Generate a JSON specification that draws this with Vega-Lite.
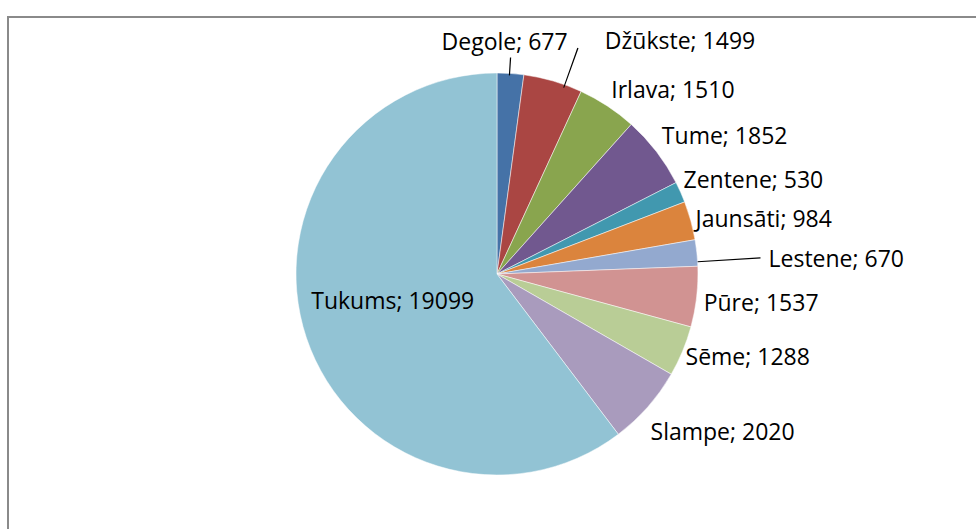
{
  "$schema": "https://vega.github.io/schema/vega-lite/v6.json",
  "width": 976,
  "height": 529,
  "autosize": {"type": "fit", "contains": "padding"},
  "padding": {"left": 7, "top": 12, "right": -11, "bottom": -3},
  "background": "white",
  "config": {
    "view": {"stroke": "#8a8a8a", "strokeWidth": 2},
    "text": {"font": "Open Sans", "fontSize": 23, "color": "black"}
  },
  "data": {
    "values": [
      {"i": 1, "name": "Degole", "v": 677, "label": "Degole; 677"},
      {"i": 2, "name": "Džūkste", "v": 1499, "label": "Džūkste; 1499"},
      {"i": 3, "name": "Irlava", "v": 1510, "label": "Irlava; 1510"},
      {"i": 4, "name": "Tume", "v": 1852, "label": "Tume; 1852"},
      {"i": 5, "name": "Zentene", "v": 530, "label": "Zentene; 530"},
      {"i": 6, "name": "Jaunsāti", "v": 984, "label": "Jaunsāti; 984"},
      {"i": 7, "name": "Lestene", "v": 670, "label": "Lestene; 670"},
      {"i": 8, "name": "Pūre", "v": 1537, "label": "Pūre; 1537"},
      {"i": 9, "name": "Sēme", "v": 1288, "label": "Sēme; 1288"},
      {"i": 10, "name": "Slampe", "v": 2020, "label": "Slampe; 2020"},
      {"i": 11, "name": "Tukums", "v": 19099, "label": "Tukums; 19099"}
    ]
  },
  "layer": [
    {
      "data": {"values": [{}]},
      "mark": {"type": "rect", "fill": "transparent", "stroke": "#8a8a8a", "strokeWidth": 2},
      "encoding": {}
    },
    {
      "encoding": {
        "theta": {"field": "v", "type": "quantitative", "stack": true},
        "order": {"field": "i", "type": "quantitative"},
        "detail": {"field": "name", "type": "nominal"}
      },
      "layer": [
        {
          "mark": {"type": "arc", "outerRadius": 201, "stroke": "white", "strokeWidth": 0.5},
          "encoding": {
            "color": {
              "field": "name",
              "type": "nominal",
              "legend": null,
              "scale": {
                "domain": ["Degole", "Džūkste", "Irlava", "Tume", "Zentene", "Jaunsāti", "Lestene", "Pūre", "Sēme", "Slampe", "Tukums"],
                "range": ["#4572A7", "#AA4643", "#89A54E", "#71588F", "#4198AF", "#DB843D", "#93A9CF", "#D19392", "#B9CD96", "#A99BBD", "#92C3D4"]
              }
            }
          }
        },
        {"mark": {"type": "text", "radius": 225, "align": "center", "baseline": "alphabetic", "dx": -7.5, "dy": 0},
         "encoding": {"text": {"condition": {"test": "datum.name === 'Degole'", "field": "label"}, "value": ""}}},
        {"mark": {"type": "text", "radius": 234, "align": "left", "baseline": "alphabetic", "dx": 42.5, "dy": 0},
         "encoding": {"text": {"condition": {"test": "datum.name === 'Džūkste'", "field": "label"}, "value": ""}}},
        {"mark": {"type": "text", "radius": 208, "align": "left", "baseline": "alphabetic", "dx": 0, "dy": -2},
         "encoding": {"text": {"condition": {"test": "datum.name === 'Irlava'", "field": "label"}, "value": ""}}},
        {"mark": {"type": "text", "radius": 208, "align": "left", "baseline": "alphabetic", "dx": 0, "dy": -3},
         "encoding": {"text": {"condition": {"test": "datum.name === 'Tume'", "field": "label"}, "value": ""}}},
        {"mark": {"type": "text", "radius": 208, "align": "left", "baseline": "alphabetic", "dx": -3.5, "dy": -1},
         "encoding": {"text": {"condition": {"test": "datum.name === 'Zentene'", "field": "label"}, "value": ""}}},
        {"mark": {"type": "text", "radius": 208, "align": "left", "baseline": "alphabetic", "dx": -2, "dy": 8},
         "encoding": {"text": {"condition": {"test": "datum.name === 'Jaunsāti'", "field": "label"}, "value": ""}}},
        {"mark": {"type": "text", "radius": 273, "align": "left", "baseline": "alphabetic", "dx": 0, "dy": 21.5},
         "encoding": {"text": {"condition": {"test": "datum.name === 'Lestene'", "field": "label"}, "value": ""}}},
        {"mark": {"type": "text", "radius": 208, "align": "left", "baseline": "alphabetic", "dx": 0, "dy": 13},
         "encoding": {"text": {"condition": {"test": "datum.name === 'Pūre'", "field": "label"}, "value": ""}}},
        {"mark": {"type": "text", "radius": 208, "align": "left", "baseline": "alphabetic", "dx": -3.5, "dy": 11},
         "encoding": {"text": {"condition": {"test": "datum.name === 'Sēme'", "field": "label"}, "value": ""}}},
        {"mark": {"type": "text", "radius": 208, "align": "left", "baseline": "alphabetic", "dx": -2.5, "dy": 28.5},
         "encoding": {"text": {"condition": {"test": "datum.name === 'Slampe'", "field": "label"}, "value": ""}}},
        {"mark": {"type": "text", "radius": 110, "align": "center", "baseline": "alphabetic", "dx": 0, "dy": 0},
         "encoding": {"text": {"condition": {"test": "datum.name === 'Tukums'", "field": "label"}, "value": ""}}}
      ]
    },
    {
      "data": {"values": [{}]},
      "mark": {"type": "arc", "theta": 0.0596, "theta2": 0.0654, "radius": 217, "radius2": 199, "color": "black"},
      "encoding": {}
    },
    {
      "data": {"values": [{}]},
      "mark": {"type": "arc", "theta": 0.3411, "theta2": 0.3466, "radius": 240, "radius2": 198, "color": "black"},
      "encoding": {}
    },
    {
      "data": {"values": [{}]},
      "mark": {"type": "arc", "theta": 1.5071, "theta2": 1.5123, "radius": 264, "radius2": 201, "color": "black"},
      "encoding": {}
    }
  ]
}
